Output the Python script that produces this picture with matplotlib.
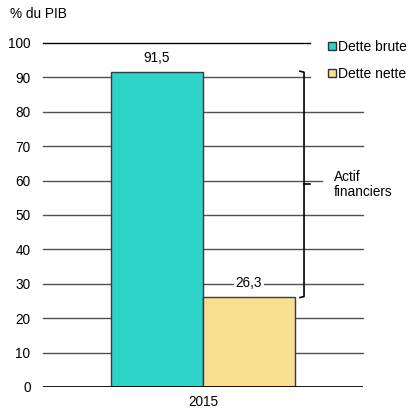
import matplotlib.pyplot as plt
from matplotlib.lines import Line2D

plt.rcParams['font.family'] = ['Liberation Sans', 'DejaVu Sans']
plt.rcParams['font.size'] = 9.8

year = "2015"
series = ["Dette brute", "Dette nette"]
values = [91.5, 26.3]
labels = ["91,5", "26,3"]
colors = ["#2ed3c9", "#f8df92"]
yticks = list(range(0, 101, 10))

fig = plt.figure(figsize=(4.18, 4.18), dpi=100)
ax = fig.add_axes([43/418, 31/418, 320/418, 344/418])

ax.set_xlim(-1.739, 1.739)
ax.set_ylim(0, 100)

# gridlines, some stop short to leave room for legend / brace text
for t in yticks[1:]:
    if t in (90, 100):
        xend = 1.163
    elif t == 60:
        xend = 1.293
    else:
        xend = 1.739
    c = "black" if t == 100 else "#505050"
    ax.plot([-1.739, xend], [t, t], color=c, lw=1, zorder=1, clip_on=False)

xs = [-0.5, 0.5]
bars = ax.bar(xs, values, width=1, color=colors, edgecolor="#3a3a3a", lw=1, zorder=2)

ax.text(xs[0], values[0] + 2.0, labels[0], ha="center", va="bottom")
ax.text(xs[1], values[1] + 2.0, labels[1], ha="center", va="bottom",
        bbox=dict(fc="white", ec="none", pad=1.5), zorder=3)

ax.axhline(0, color="black", lw=2, zorder=4)

# brace for "Actif financiers"
bx = 1.098
mid = (values[0] + values[1]) / 2
ax.plot([1.054, bx, bx, 1.054], [values[0] + 0.3, values[0], values[1], values[1] - 0.3],
        color="black", lw=1.2, clip_on=False, zorder=5)
ax.plot([bx, 1.163], [mid, mid], color="black", lw=1.2, clip_on=False, zorder=5)
ax.text(1.424, mid, "Actif\nfinanciers", ha="left", va="center", linespacing=1.1)

ax.set_xticks([0])
ax.set_xticklabels([year])
ax.set_yticks(yticks)
ax.tick_params(length=0, pad=9)
ax.tick_params(axis="x", pad=6)
for s in ax.spines.values():
    s.set_visible(False)

fig.text(10/418, 1 - 14/418, "% du PIB", ha="left", va="center")

handles = [Line2D([], [], marker="s", ls="none", markersize=5.5, markerfacecolor=c,
                  markeredgecolor="#333333", markeredgewidth=1) for c in colors]
fig.legend(handles, series, loc="upper left", bbox_to_anchor=(320/418, 1 - 33/418),
           frameon=False, borderpad=0, handlelength=0.7, handletextpad=0.1,
           labelspacing=0.95, fontsize=10)

fig.savefig("out.png", dpi=100)
